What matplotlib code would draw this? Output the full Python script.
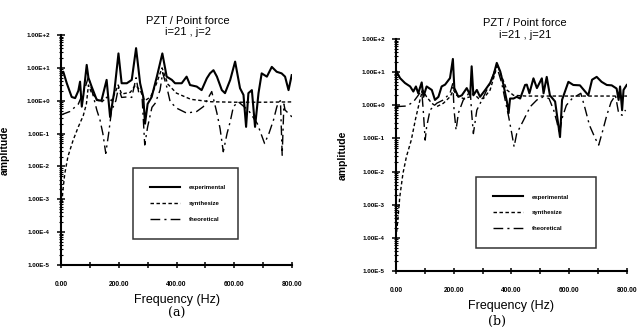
import numpy as np
import matplotlib
matplotlib.use("Agg")
import matplotlib.pyplot as plt
from matplotlib.ticker import FixedLocator, FuncFormatter, LogLocator, NullFormatter

plt.rcParams['font.family'] = ['Liberation Sans', 'DejaVu Sans']

# ---- data (frequency in Hz, amplitude) ----
# panel (a): i=21, j=2
f_exp_a = [0, 8, 20, 37, 49, 60, 66, 72, 78, 89, 95, 106, 124, 140, 158, 170, 185, 199, 210, 228,
           245, 260, 274, 285, 291, 300, 314, 332, 351, 366, 384, 395, 418, 435, 447, 470, 487, 505,
           516, 528, 540, 557, 568, 586, 603, 620, 632, 641, 649, 661, 672, 684, 695, 713, 730, 747,
           764, 776, 788, 799]
amp_exp_a = [6.3, 7.6, 3.4, 1.3, 1.2, 2.0, 3.8, 0.66, 1.6, 12.3, 5.0, 2.7, 1.05, 1.0, 4.3, 0.32,
             2.0, 27.5, 3.4, 3.4, 4.3, 39.8, 3.4, 1.3, 0.2, 0.8, 1.3, 5.4, 27.5, 5.4, 4.3, 3.4, 3.4,
             5.4, 3.0, 2.7, 2.1, 4.8, 6.8, 8.5, 5.4, 2.1, 1.7, 4.3, 15.5, 2.4, 1.5, 0.16, 1.7, 2.1,
             0.16, 1.7, 6.8, 5.4, 10.7, 7.6, 6.8, 5.4, 2.1, 6.0]

f_syn_a = [0, 1, 4, 7, 13, 24, 42, 60, 77, 88, 95, 105, 125, 140, 160, 175, 190, 198, 210, 240,
           258, 275, 290, 310, 330, 350, 370, 400, 450, 520, 600, 700, 800]
amp_syn_a = [1e-4, 6e-4, 1e-3, 2e-3, 6e-3, 0.02, 0.063, 0.16, 0.35, 0.8, 3.0, 1.8, 1.1, 0.9, 1.3,
             1.0, 2.0, 3.0, 1.6, 1.8, 3.0, 2.0, 1.0, 1.3, 3.2, 10, 3.2, 1.7, 1.1, 0.93, 0.9, 0.9, 0.92]

f_th_a = [0, 31, 60, 83, 95, 110, 124, 135, 145, 155, 165, 175, 190, 199, 210, 228, 245, 260, 270,
          280, 290, 300, 315, 326, 343, 352, 366, 378, 401, 435, 470, 493, 522, 540, 551, 562, 575,
          586, 597, 614, 650, 680, 705, 720, 736, 747, 753, 760, 766, 772, 776, 793, 800]
amp_th_a = [0.37, 0.47, 0.79, 2.4, 5.4, 1.6, 0.52, 0.26, 0.1, 0.025, 0.1, 0.5, 1.0, 2.5, 1.26, 1.3,
            1.26, 5.0, 1.6, 1.7, 0.045, 0.16, 0.63, 0.83, 2.1, 7.1, 2.7, 0.93, 0.59, 0.42, 0.47, 0.66,
            1.9, 0.42, 0.14, 0.028, 0.1, 0.23, 0.66, 0.93, 0.5, 0.2, 0.05, 0.1, 0.26, 0.63, 0.89, 1.0,
            0.022, 0.79, 0.52, 0.37, 0.32]

# panel (b): i=21, j=21
f_exp_b = [0, 2, 14, 31, 49, 60, 69, 77, 89, 95, 106, 124, 135, 147, 158, 170, 187, 197, 202, 216,
           228, 245, 257, 262, 268, 280, 291, 309, 326, 338, 349, 361, 372, 384, 390, 395, 407, 418,
           430, 447, 453, 462, 476, 488, 505, 511, 522, 533, 551, 568, 575, 597, 614, 637, 655, 666,
           679, 695, 712, 730, 747, 764, 771, 776, 783, 788, 799]
amp_exp_b = [10, 10.5, 6.6, 4.7, 3.7, 2.6, 3.7, 2.3, 4.9, 1.8, 3.7, 2.9, 1.45, 1.8, 3.7, 4.2, 6.6,
             25, 3.3, 1.8, 2.0, 3.3, 2.0, 15, 2.0, 2.9, 1.8, 2.9, 4.7, 8.3, 19, 10.5, 4.2, 1.3, 0.58,
             1.6, 1.6, 1.8, 1.6, 4.1, 4.2, 2.3, 6.5, 3.3, 6.5, 2.3, 7.2, 2.0, 1.3, 0.11, 1.45, 5.1,
             4.1, 4.0, 2.6, 2.0, 5.9, 7.2, 5.1, 4.1, 4.0, 3.2, 1.45, 3.7, 0.71, 2.9, 4.1]

f_syn_b = [0, 7, 13, 24, 36, 53, 68, 83, 92, 106, 124, 141, 164, 187, 199, 210, 233, 257, 268, 286,
           303, 326, 343, 351, 366, 384, 407, 450, 500, 600, 700, 800]
amp_syn_b = [1e-4, 4e-4, 1.7e-3, 8.7e-3, 0.028, 0.09, 0.4, 1.45, 2.9, 1.8, 1.15, 0.91, 1.15, 1.8,
             2.9, 2.0, 1.6, 1.8, 2.3, 1.6, 1.6, 2.9, 9.3, 16.6, 7.4, 2.9, 2.0, 1.9, 1.9, 1.9, 1.9, 1.9]

f_th_b = [0, 37, 60, 77, 89, 95, 101, 106, 118, 141, 164, 187, 197, 201, 208, 216, 233, 245, 257,
          262, 268, 280, 303, 326, 343, 349, 366, 378, 390, 401, 409, 418, 442, 465, 488, 510, 530,
          546, 557, 566, 575, 590, 610, 640, 655, 670, 690, 702, 715, 730, 745, 760, 771, 783, 795]
amp_th_b = [0.91, 0.95, 1.26, 2.0, 2.9, 0.58, 0.089, 0.22, 0.72, 1.15, 1.45, 2.3, 4.7, 0.72, 0.18,
            0.58, 1.45, 1.8, 2.9, 0.58, 0.14, 0.72, 1.8, 4.7, 11.7, 14.8, 4.7, 1.45, 0.46, 0.14,
            0.056, 0.14, 0.36, 0.91, 1.45, 1.8, 1.6, 0.72, 0.32, 0.14, 0.4, 1.0, 1.6, 2.3, 0.79,
            0.25, 0.1, 0.063, 0.16, 0.5, 1.26, 2.0, 0.58, 0.5, 0.72]

x_ticks = [0, 200, 400, 600, 800]
legend_labels = ["experimental", "synthesize", "theoretical"]

W, H = 637, 330


def px_axes(left, top, right, bottom):
    return [left / W, (H - bottom) / H, (right - left) / W, (bottom - top) / H]


def dec_label(v, pos):
    e = int(round(np.log10(v)))
    return f"1.00E{e:+d}"


def style_axes(ax):
    ax.set_yscale('log')
    ax.set_xlim(0, 800)
    ax.set_ylim(1e-5, 1e2)
    for s in ['top', 'right']:
        ax.spines[s].set_visible(False)
    for s in ['left', 'bottom']:
        ax.spines[s].set_linewidth(1.5)
    ax.xaxis.set_major_locator(FixedLocator(x_ticks))
    ax.xaxis.set_minor_locator(FixedLocator([100, 300, 500, 700]))
    ax.xaxis.set_major_formatter(FuncFormatter(lambda v, p: f"{v:.2f}"))
    ax.yaxis.set_major_locator(LogLocator(base=10, numticks=20))
    ax.yaxis.set_minor_locator(LogLocator(base=10, subs=np.arange(2, 10), numticks=20))
    ax.yaxis.set_major_formatter(FuncFormatter(dec_label))
    ax.yaxis.set_minor_formatter(NullFormatter())
    ax.tick_params(axis='y', which='major', direction='inout', length=6, width=1.1,
                   labelsize=4.5, pad=5)
    ax.tick_params(axis='y', which='minor', direction='inout', length=3, width=0.8)
    ax.tick_params(axis='x', which='major', direction='inout', length=5, width=1.1,
                   labelsize=4.8, pad=9)
    ax.tick_params(axis='x', which='minor', direction='inout', length=5, width=1.1)
    for lab in ax.get_xticklabels() + ax.get_yticklabels():
        lab.set_fontweight('bold')
    ax.set_xlabel("Frequency (Hz)", fontsize=9, labelpad=4)
    ax.set_ylabel("amplitude", fontsize=7.5, fontweight='bold')
    ax.patch.set_alpha(0)


def draw(ax, fe, ae, fs, as_, ft, at):
    l1, = ax.plot(fe, ae, color='black', lw=1.5, ls='-')
    l2, = ax.plot(fs, as_, color='black', lw=1.0, ls=(0, (2.5, 1.8)))
    l3, = ax.plot(ft, at, color='black', lw=1.0, ls=(0, (7, 3, 1.5, 3)))
    return [l1, l2, l3]


fig = plt.figure(figsize=(W / 100, H / 100), dpi=100)

ax_a = fig.add_axes(px_axes(61, 35, 292, 265))
ax_b = fig.add_axes(px_axes(396, 39, 627, 271))

h_a = draw(ax_a, f_exp_a, amp_exp_a, f_syn_a, amp_syn_a, f_th_a, amp_th_a)
h_b = draw(ax_b, f_exp_b, amp_exp_b, f_syn_b, amp_syn_b, f_th_b, amp_th_b)

style_axes(ax_a)
style_axes(ax_b)
ax_a.yaxis.set_label_coords(-51 / 231, 0.5)
ax_b.yaxis.set_label_coords(-48 / 231, 0.5)

for ax, h, box in [(ax_a, h_a, (133, 168, 238, 238)), (ax_b, h_b, (476, 177, 596, 247))]:
    pos = ax.get_position()
    x0 = (box[0] / W - pos.x0) / pos.width
    x1 = (box[2] / W - pos.x0) / pos.width
    ytop = ((H - box[1]) / H - pos.y0) / pos.height
    leg = ax.legend(h, legend_labels, loc='upper left', bbox_to_anchor=(x0, ytop, x1 - x0, 0),
                    mode='expand', borderaxespad=0, fancybox=False, frameon=True,
                    edgecolor='black', handlelength=4.9, handletextpad=1.5,
                    labelspacing=1.75, borderpad=2.9, prop={'weight': 'bold', 'size': 4.3})
    leg.get_frame().set_linewidth(1.1)

# titles and panel captions
fig.text(188 / W, 1 - 21 / H, "PZT / Point force", ha='center', va='center', fontsize=8)
fig.text(188 / W, 1 - 32 / H, "i=21 , j=2", ha='center', va='center', fontsize=8)
fig.text(525 / W, 1 - 23 / H, "PZT / Point force", ha='center', va='center', fontsize=8)
fig.text(525 / W, 1 - 35 / H, "i=21 , j=21", ha='center', va='center', fontsize=8)
fig.text(177 / W, 1 - 313 / H, "(a)", ha='center', va='center', fontsize=9,
         family=['DejaVu Serif'])
fig.text(497 / W, 1 - 321 / H, "(b)", ha='center', va='center', fontsize=9,
         family=['DejaVu Serif'])

fig.savefig("out.png", dpi=100)
